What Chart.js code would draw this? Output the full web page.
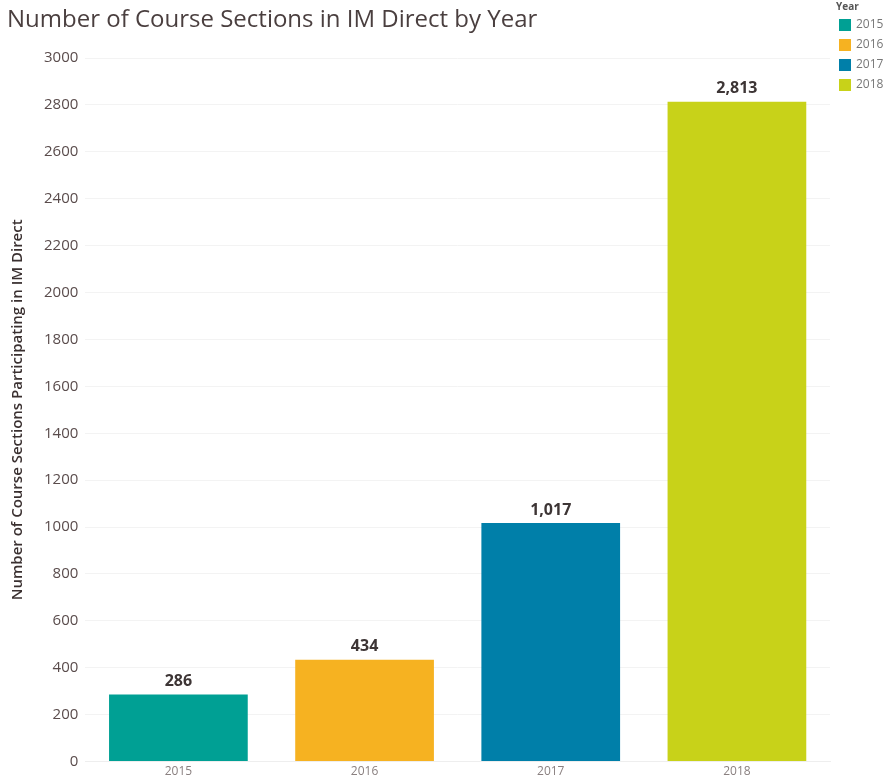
<!DOCTYPE html>
<html>
<head>
<meta charset="utf-8">
<script src="https://cdn.jsdelivr.net/npm/chart.js@4.4.1/dist/chart.umd.min.js"></script>
<style>
  html, body { margin: 0; padding: 0; background: #fff; }
  #wrap { width: 894px; height: 782px; }
</style>
</head>
<body>
<div id="wrap"><canvas id="myChart"></canvas></div>
<script>
const years = ['2015', '2016', '2017', '2018'];
const sections = [286, 434, 1017, 2813];
const yearColors = ['#00a094', '#f6b221', '#007fa9', '#c8d219'];
const yTicks = [0, 200, 400, 600, 800, 1000, 1200, 1400, 1600, 1800, 2000, 2200, 2400, 2600, 2800, 3000];

// title, legend and value labels drawn on the canvas
const extras = {
    id: 'extras',
    afterDatasetsDraw(chart) {
        const c = chart.ctx;
        const meta = chart.getDatasetMeta(0);
        c.save();
        c.fillStyle = '#3d3535';
        c.font = 'bold 16px "Open Sans"';
        c.textAlign = 'center';
        c.textBaseline = 'bottom';
        meta.data.forEach((bar, i) => {
            c.fillText(sections[i].toLocaleString('en-US'), bar.x, bar.y - 5);
        });
        c.restore();
    },
    afterDraw(chart) {
        const c = chart.ctx;
        c.save();
        c.fillStyle = '#4a3f3f';
        c.font = '24px "Open Sans"';
        c.textAlign = 'left';
        c.textBaseline = 'middle';
        c.fillText('Number of Course Sections in IM Direct by Year', 7, 20);

        c.fillStyle = '#555';
        c.font = 'bold 10px "Open Sans"';
        c.fillText('Year', 836, 7);
        c.font = '12px "Open Sans"';
        years.forEach((y, i) => {
            const top = 19 + i * 20;
            c.fillStyle = yearColors[i];
            c.fillRect(839, top, 12, 12);
            c.fillStyle = '#777';
            c.fillText(y, 856, top + 6);
        });
        c.restore();
    }
};

const ctx = document.getElementById('myChart').getContext('2d');
const myChart = new Chart(ctx, {
    type: 'bar',
    data: {
        labels: years,
        datasets: [{
            label: 'Number of Course Sections',
            data: sections,
            backgroundColor: yearColors,
            borderWidth: 0,
            barPercentage: 0.745,
            categoryPercentage: 1.0
        }]
    },
    options: {
        responsive: true,
        maintainAspectRatio: false,
        animation: false,
        layout: {
            padding: { top: 58, right: 64, left: 9, bottom: 0 }
        },
        plugins: {
            legend: { display: false },
            tooltip: { enabled: false }
        },
        scales: {
            x: {
                grid: { display: false, drawTicks: false },
                border: { color: '#eeeeee' },
                ticks: {
                    color: '#8a8080',
                    font: { family: 'Open Sans', size: 12 },
                    padding: 3
                }
            },
            y: {
                min: 0,
                max: 3000,
                afterBuildTicks(axis) {
                    axis.ticks = yTicks.map(v => ({ value: v }));
                },
                grid: { color: '#f3f3f3', drawTicks: false },
                border: { display: false },
                ticks: {
                    color: '#5a4c4c',
                    font: { family: 'Open Sans', size: 15 },
                    padding: 7,
                    callback: v => String(v)
                },
                title: {
                    display: true,
                    text: 'Number of Course Sections Participating in IM Direct',
                    color: '#3a3030',
                    font: { family: 'Open Sans', size: 15, weight: '600' },
                    padding: { top: 0, bottom: 10 }
                }
            }
        }
    },
    plugins: [extras]
});
</script>
</body>
</html>
